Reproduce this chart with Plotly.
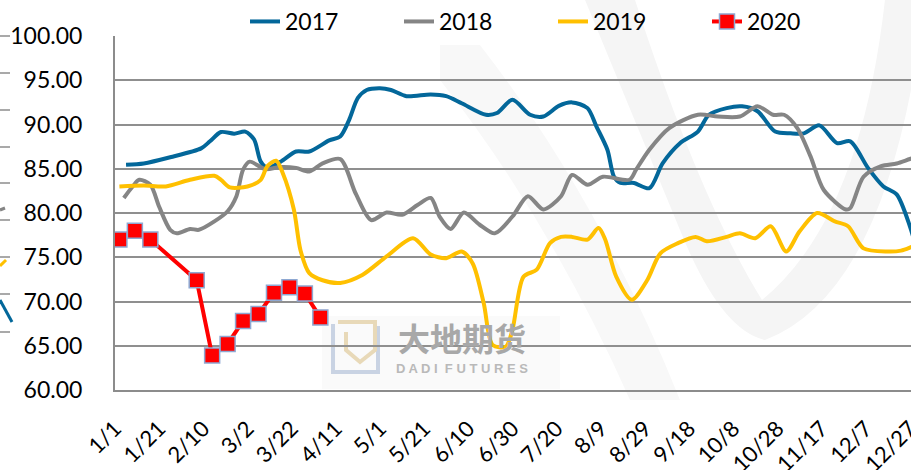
import plotly.graph_objects as go

# ---------------- data (day offset from Jan 1, value) ----------------
tick_days = [0, 20, 40, 60, 80, 100, 120, 140, 160, 180, 200, 220, 240, 260, 280, 300, 320, 340, 360]
tick_labels = ["1/1", "1/21", "2/10", "3/2", "3/22", "4/11", "5/1", "5/21", "6/10", "6/30",
               "7/20", "8/9", "8/29", "9/18", "10/8", "10/28", "11/17", "12/7", "12/27"]

days_2017 = [5, 13, 25, 39, 43, 48, 54, 59, 63, 66, 69, 75, 82, 88, 97, 102, 106, 110, 114, 120,
             125, 132, 143, 150, 157, 168, 173, 180, 188, 194, 201, 207, 214, 218, 223, 226, 229,
             235, 242, 248, 256, 264, 269, 277, 284, 291, 299, 306, 312, 319, 327, 333, 341, 348,
             354, 360, 364]
vals_2017 = [85.45, 85.6, 86.3, 87.3, 88.1, 89.15, 88.96, 89.2, 88.3, 85.8, 85.1, 85.8, 86.95,
             86.95, 88.2, 88.65, 90.5, 93.0, 93.9, 94.1, 93.9, 93.2, 93.4, 93.2, 92.4, 91.1, 91.3,
             92.8, 91.1, 90.9, 92.1, 92.5, 91.85, 89.8, 87.15, 84.1, 83.4, 83.4, 82.8, 85.6, 87.9,
             89.2, 91.1, 91.85, 92.05, 91.5, 89.2, 89.0, 89.0, 89.9, 87.9, 88.1, 85.1, 83.0, 82.1,
             78.5, 75.0]

days_2018 = [4, 8, 11, 16, 20, 25, 28, 34, 38, 45, 51, 55, 58, 61, 68, 75, 82, 88, 94, 102,
             109, 116, 123, 130, 137, 143, 147, 152, 158, 165, 172, 180, 187, 194, 202, 207, 214,
             221, 233, 236, 242, 251, 264, 273, 283, 291, 298, 303, 309, 315, 321, 331, 333, 339,
             347, 354, 360, 364]
vals_2018 = [81.7, 83.0, 83.75, 83.2, 80.7, 78.1, 77.7, 78.2, 78.1, 79.05, 80.2, 81.9, 84.9, 85.8,
             84.95, 85.2, 85.1, 84.7, 85.6, 86.1, 82.2, 79.2, 80.05, 79.8, 80.9, 81.7, 79.6, 78.2,
             80.05, 78.7, 77.7, 79.6, 81.9, 80.4, 81.9, 84.3, 83.2, 84.1, 83.75, 84.9, 87.15, 89.6,
             91.1, 90.9, 90.9, 92.05, 91.1, 91.1, 89.6, 86.4, 82.6, 80.4, 80.55, 84.1, 85.3, 85.6,
             86.1, 86.4]

days_2019 = [2, 13, 23, 34, 45, 48, 52, 60, 66, 69, 73, 76, 81, 84, 88, 94, 102, 112, 123, 135,
             143, 150, 157, 162, 167, 171, 177, 180, 185, 191, 197, 202, 207, 214, 219, 222, 227,
             234, 241, 247, 255, 263, 268, 277, 283, 290, 297, 304, 310, 318, 326, 332, 339, 350,
             356, 361, 364]
vals_2019 = [83.0, 83.1, 83.0, 83.75, 84.2, 83.75, 82.9, 83.0, 83.75, 85.3, 85.9, 84.5, 80.4, 75.8,
             73.2, 72.4, 72.1, 73.0, 75.1, 77.15, 75.3, 74.9, 75.65, 74.3, 69.8, 65.1, 64.9, 66.8,
             72.8, 73.6, 76.6, 77.3, 77.3, 77.0, 78.3, 77.0, 72.8, 70.2, 72.4, 75.45, 76.6, 77.3,
             76.8, 77.3, 77.7, 77.15, 78.5, 75.65, 77.9, 80.0, 79.05, 78.5, 76.0, 75.65, 75.75,
             76.2, 76.5]

days_2020 = [2, 9, 16, 37, 44, 51, 58, 65, 72, 79, 86, 93]
vals_2020 = [77.0, 78.0, 77.0, 72.4, 63.9, 65.2, 67.8, 68.6, 71.0, 71.6, 70.9, 68.2]

# ---------------- layout geometry ----------------
W, H = 911, 470
L, R, T, B = 115, 0, 36, 80
PW, PH = W - L - R, H - T - B


def px(x, y):
    """pixel -> paper coords"""
    return (x - L) / PW, (H - B - y) / PH


def path(cmds, close=True):
    """cmds: list of (letter, [(x,y),...]) in pixels"""
    s = ""
    for letter, pts in cmds:
        s += letter
        s += " ".join(f"{px(x, y)[0]:.4f},{px(x, y)[1]:.4f}" for x, y in pts) + " "
    return s + ("Z" if close else "")


def poly(points, close=True):
    return path([("M" if i == 0 else "L", [p]) for i, p in enumerate(points)], close)


FONT = "Lato, 'Open Sans', sans-serif"

fig = go.Figure()

fig.add_trace(go.Scatter(x=days_2017, y=vals_2017, name="2017", mode="lines",
                         line=dict(color="#03679A", width=4, shape="spline", smoothing=0.8)))
fig.add_trace(go.Scatter(x=days_2018, y=vals_2018, name="2018", mode="lines",
                         line=dict(color="#858585", width=4, shape="spline", smoothing=0.8)))
fig.add_trace(go.Scatter(x=days_2019, y=vals_2019, name="2019", mode="lines",
                         line=dict(color="#FFC000", width=4, shape="spline", smoothing=0.8)))
fig.add_trace(go.Scatter(x=days_2020, y=vals_2020, name="2020", mode="lines+markers",
                         line=dict(color="#FF0000", width=4),
                         marker=dict(symbol="square", size=15, color="#FF0000",
                                     line=dict(color="#8EA8D2", width=1.5))))

shapes = []
# faint background watermark swooshes
shapes.append(dict(type="path", xref="paper", yref="paper", layer="below", line=dict(width=0),
                   fillcolor="#f5f5f5",
                   path=path([("M", [(585, 0)]), ("L", [(635, 0)]),
                              ("Q", [(700, 200), (762, 300)]),
                              ("Q", [(860, 220), (885, 0)]),
                              ("L", [(911, 0)]), ("L", [(911, 90)]),
                              ("Q", [(870, 300), (765, 340)]),
                              ("Q", [(720, 330), (680, 230)])])))
shapes.append(dict(type="path", xref="paper", yref="paper", layer="below", line=dict(width=0),
                   fillcolor="#f8f8f8",
                   path=path([("M", [(440, 45)]), ("L", [(480, 45)]),
                              ("Q", [(600, 200), (680, 400)]), ("L", [(630, 400)]),
                              ("Q", [(550, 220), (440, 80)])])))
# watermark logo box background
shapes.append(dict(type="rect", xref="paper", yref="paper", layer="below", line=dict(width=0),
                   fillcolor="#fafafa",
                   x0=px(322, 0)[0], x1=px(560, 0)[0], y0=px(0, 389)[1], y1=px(0, 316)[1]))
# logo icon
shapes.append(dict(type="path", xref="paper", yref="paper", layer="below",
                   line=dict(color="#c9d3e3", width=4),
                   path=poly([(333, 324), (333, 372), (378, 372), (378, 326)], close=False)))
shapes.append(dict(type="path", xref="paper", yref="paper", layer="below",
                   line=dict(color="#e8d9b8", width=4),
                   path=poly([(338, 322), (375, 322), (375, 350), (360, 362), (346, 350),
                              (346, 332)], close=False)))
# fragments of neighbouring chart on the left edge
for yy in [36, 73, 110, 147, 183, 220, 257, 294, 332]:
    a, b = px(0, yy)
    c, _ = px(10, yy)
    shapes.append(dict(type="line", xref="paper", yref="paper", x0=a, x1=c, y0=b, y1=b,
                       line=dict(color="#8c8c8c", width=1.5)))
shapes.append(dict(type="path", xref="paper", yref="paper",
                   line=dict(color="#FFC000", width=3), path=poly([(0, 266), (6, 260)], close=False)))
shapes.append(dict(type="path", xref="paper", yref="paper",
                   line=dict(color="#03679A", width=3), path=poly([(0, 300), (12, 322)], close=False)))
shapes.append(dict(type="path", xref="paper", yref="paper",
                   line=dict(color="#858585", width=3), path=poly([(0, 210), (5, 208)], close=False)))

annotations = [
    dict(text="<b>大地期货</b>", xref="paper", yref="paper", x=px(462, 0)[0], y=px(0, 337)[1],
         showarrow=False, font=dict(family="Noto Sans CJK SC", size=32, color="#a8a8a8"),
         xanchor="center", yanchor="middle"),
    dict(text="<b>D A D I  F U T U R E S</b>", xref="paper", yref="paper",
         x=px(462, 0)[0], y=px(0, 368)[1],
         showarrow=False, font=dict(family="Liberation Sans", size=13, color="#b9b9b9"),
         xanchor="center", yanchor="middle"),
]

fig.update_layout(
    width=W, height=H,
    margin=dict(l=L, r=R, t=T, b=B, pad=0, autoexpand=False),
    paper_bgcolor="white", plot_bgcolor="rgba(0,0,0,0)",
    font=dict(family=FONT, size=23, color="black"),
    showlegend=True,
    legend=dict(orientation="h", x=px(245, 0)[0], xanchor="left", y=px(0, 43)[1],
                yanchor="bottom",
                entrywidth=109, entrywidthmode="pixels", font=dict(size=23),
                bgcolor="rgba(0,0,0,0)", itemwidth=30, tracegroupgap=0),
    shapes=shapes,
    annotations=annotations,
)
fig.update_xaxes(range=[0, 360.5], tickmode="array", tickvals=tick_days, ticktext=tick_labels,
                 tickangle=-45, showgrid=False, zeroline=False, showline=True,
                 linecolor="#8c8c8c", linewidth=2, ticks="", ticklabelstandoff=15,
                 ticklabeloverflow="allow",
                 tickfont=dict(size=22), automargin=False)
fig.update_yaxes(range=[60, 100], dtick=5, tick0=60, tickformat=".2f", showgrid=True,
                 gridcolor="#8f8f8f", gridwidth=2, zeroline=False, showline=True,
                 linecolor="#8c8c8c", linewidth=2, ticks="", ticklabelstandoff=26,
                 tickfont=dict(size=23), automargin=False)

fig.write_html("out.html", config={"displayModeBar": False},
               post_script="document.body.style.margin='0';document.body.style.overflow='hidden';")
